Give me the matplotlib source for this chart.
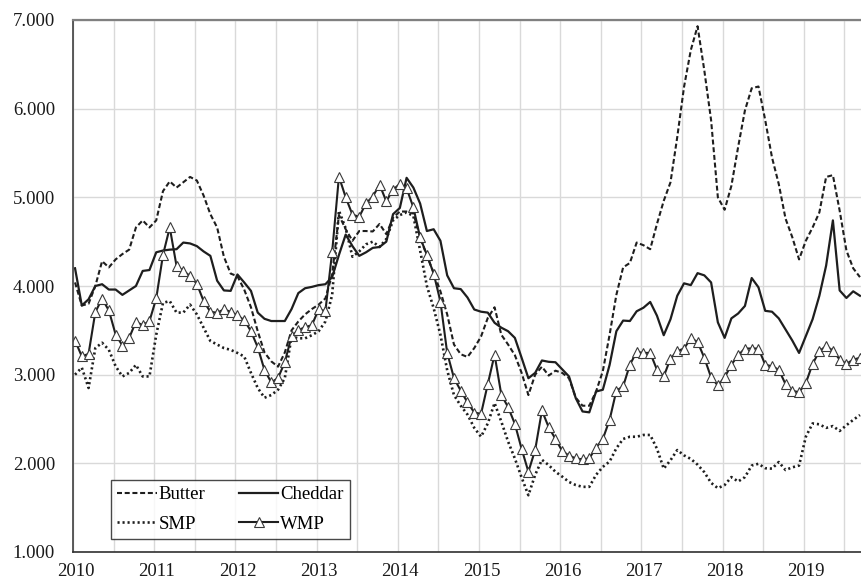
import numpy as np
import matplotlib
matplotlib.use("Agg")
import matplotlib.pyplot as plt
from matplotlib.ticker import FixedLocator

plt.rcParams['font.family'] = ['Liberation Serif', 'DejaVu Serif']

start_year = 2010
butter = [4040, 3780, 3800, 4000, 4280, 4210, 4300, 4360, 4410, 4660, 4740, 4660,
          4740, 5070, 5180, 5110, 5170, 5230, 5190, 5020, 4810, 4660, 4330, 4140,
          4110, 3960, 3760, 3490, 3250, 3150, 3090, 3250, 3500, 3600, 3680, 3740,
          3790, 3860, 4130, 4800, 4640, 4510, 4620, 4620, 4615, 4700, 4585, 4770,
          4840, 4840, 4820, 4550, 4340, 4150, 3940, 3680, 3340, 3230, 3200, 3300,
          3430, 3640, 3760, 3450, 3340, 3220, 3020, 2770, 3000, 3090, 2990, 3045,
          3020, 2960, 2740, 2650, 2650, 2810, 3040, 3450, 3900, 4210, 4260, 4490,
          4460, 4415, 4700, 4960, 5170, 5680, 6245, 6660, 6930, 6430, 5870, 5000,
          4860, 5130, 5570, 5980, 6230, 6250, 5870, 5450, 5150, 4760, 4550, 4300,
          4510, 4660, 4830, 5230, 5250, 4850, 4400, 4200, 4100]
cheddar = [4200, 3780, 3850, 4000, 4020, 3960, 3960, 3900, 3950, 4000, 4170, 4180,
           4380, 4400, 4410, 4415, 4490, 4480, 4450, 4390, 4340, 4060, 3950, 3945,
           4130, 4040, 3945, 3700, 3630, 3605, 3605, 3605, 3740, 3920, 3975, 3990,
           4010, 4020, 4100, 4350, 4580, 4450, 4340, 4380, 4430, 4440, 4500, 4810,
           4880, 5220, 5110, 4930, 4620, 4640, 4510, 4120, 3975, 3965, 3870, 3735,
           3710, 3700, 3585, 3530, 3490, 3415, 3190, 2960, 3020, 3160, 3145, 3140,
           3060, 2980, 2735, 2585, 2575, 2810, 2830, 3110, 3490, 3610, 3605, 3715,
           3755, 3820, 3665, 3445, 3625, 3890, 4030, 4010, 4145, 4120, 4040, 3590,
           3415, 3635, 3690, 3775, 4090, 3985, 3720, 3710, 3635, 3510, 3385, 3245,
           3435, 3625, 3890, 4230, 4740, 3950, 3865, 3940, 3890]
smp = [3000, 3080, 2850, 3300, 3360, 3280, 3095, 2980, 3020, 3110, 2980, 2980,
       3450, 3810, 3830, 3700, 3700, 3790, 3680, 3530, 3380, 3340, 3300, 3280,
       3245, 3205, 3020, 2850, 2740, 2770, 2830, 2960, 3430, 3410, 3410, 3445,
       3490, 3600, 3900, 4850, 4650, 4330, 4390, 4470, 4500, 4440, 4530, 4740,
       4800, 4830, 4790, 4400, 4000, 3750, 3450, 3050, 2770, 2650, 2550, 2400,
       2300, 2450, 2680, 2470, 2245, 2055, 1840, 1640, 1870, 2040, 1980, 1905,
       1850, 1790, 1755, 1735, 1735, 1870, 1960, 2020, 2170, 2275, 2300, 2300,
       2320, 2320, 2165, 1940, 2035, 2150, 2090, 2050, 1985, 1900, 1780, 1720,
       1755, 1845, 1795, 1845, 1975, 1995, 1945, 1940, 2015, 1925, 1955, 1975,
       2300, 2450, 2440, 2400, 2420, 2365, 2430, 2490, 2545]
wmp = [3385, 3207, 3234, 3706, 3857, 3724, 3453, 3328, 3415, 3596, 3558, 3604,
       3860, 4351, 4660, 4226, 4170, 4113, 4026, 3830, 3709, 3698, 3736, 3709,
       3668, 3615, 3490, 3309, 3052, 2913, 2962, 3140, 3434, 3502, 3536, 3558,
       3736, 3717, 4385, 5234, 5000, 4804, 4781, 4932, 5008, 5144, 4955, 5087,
       5151, 5102, 4887, 4547, 4351, 4140, 3825, 3245, 2962, 2819, 2687, 2573,
       2558, 2894, 3226, 2773, 2634, 2445, 2162, 1905, 2151, 2596, 2407, 2275,
       2139, 2087, 2056, 2045, 2056, 2177, 2275, 2490, 2819, 2868, 3113, 3257,
       3245, 3246, 3056, 2980, 3181, 3265, 3295, 3409, 3371, 3189, 2969, 2878,
       2969, 3113, 3219, 3295, 3295, 3295, 3113, 3094, 3056, 2893, 2818, 2802,
       2905, 3121, 3265, 3322, 3272, 3170, 3121, 3170, 3190]

year_labels = ['2010', '2011', '2012', '2013', '2014', '2015', '2016', '2017', '2018', '2019']
y_ticks = [1000, 2000, 3000, 4000, 5000, 6000, 7000]
y_labels = ['1.000', '2.000', '3.000', '4.000', '5.000', '6.000', '7.000']

n = len(butter)
x = start_year + (np.arange(n) + 0.3) / 12.0

fig = plt.figure(figsize=(8.61, 5.80), dpi=100)
ax = fig.add_axes([73/861, 1 - 552/580, 1 - 73/861, (552 - 20)/580])

col = '#1e1e1e'
ax.plot(x, butter, color=col, lw=1.5, linestyle=(0, (2.4, 1.3)), label='Butter')
ax.plot(x, smp, color=col, lw=1.9, linestyle=(0, (0.8, 1.1)), label='SMP')
ax.plot(x, cheddar, color=col, lw=1.6, linestyle='-', label='Cheddar')
ax.plot(x, wmp, color=col, lw=1.5, linestyle='-', marker='^', markersize=6.5,
        markerfacecolor='white', markeredgecolor='#3a3a3a', markeredgewidth=0.8,
        label='WMP')

ax.set_ylim(1000, 7000)
ax.set_xlim(2010, 2010 + (861 - 73) / 81.2)
ax.set_yticks(y_ticks)
ax.set_yticklabels(y_labels)

years = np.arange(len(year_labels)) + start_year
ax.set_xticks(years + 0.03)
ax.set_xticklabels(year_labels)
ax.xaxis.set_minor_locator(FixedLocator(np.arange(2010, 2020, 0.5)))

ax.grid(False)
ax.grid(True, which='minor', axis='x', color='#d9d9d9', lw=1.0)
ax.grid(True, which='major', axis='y', color='#d9d9d9', lw=1.0)
ax.set_axisbelow(True)

ax.tick_params(axis='both', which='both', length=0)
ax.tick_params(axis='y', pad=13, labelsize=13.5, colors='#1a1a1a')
ax.tick_params(axis='x', pad=8, labelsize=13.5, colors='#1a1a1a')

ax.spines['right'].set_visible(False)
ax.spines['top'].set_color('#808080')
ax.spines['top'].set_linewidth(1.6)
ax.spines['left'].set_color('#404040')
ax.spines['left'].set_linewidth(1.2)
ax.spines['bottom'].set_color('#303030')
ax.spines['bottom'].set_linewidth(1.2)

handles, labels = ax.get_legend_handles_labels()
leg = ax.legend(handles, labels, ncol=2, loc='lower left',
                bbox_to_anchor=((110.7 - 73) / 788, (552 - 539.3) / 532),
                frameon=True, fancybox=False, edgecolor='#1a1a1a',
                fontsize=13.5, handlelength=2.1, handletextpad=0.1,
                columnspacing=1.8, labelspacing=0.65, borderpad=0.35,
                borderaxespad=0)
leg.get_frame().set_linewidth(1.0)

fig.savefig('out.png', dpi=100)
